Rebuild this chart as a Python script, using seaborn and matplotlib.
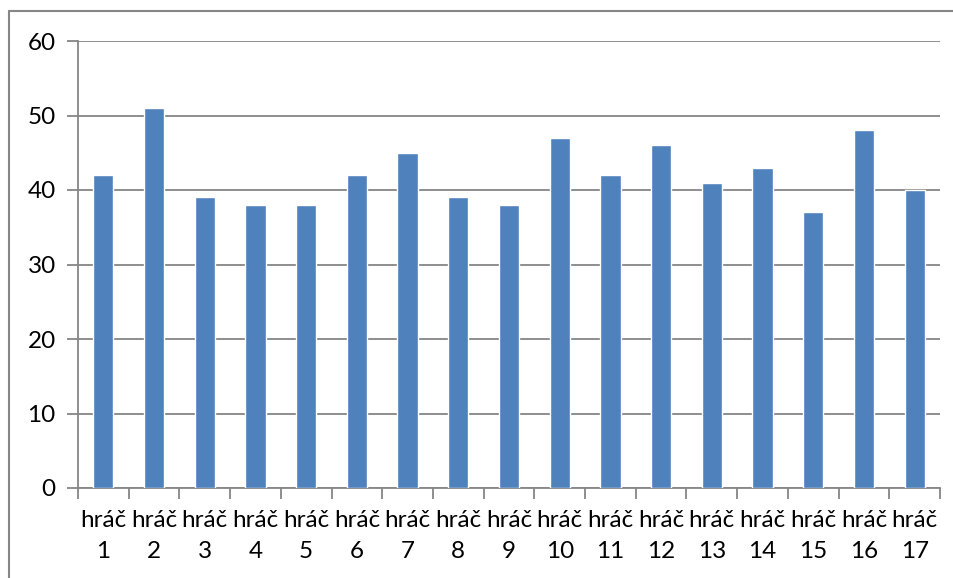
import matplotlib
matplotlib.use("Agg")
import matplotlib.pyplot as plt
import seaborn as sns
import pandas as pd
from matplotlib.lines import Line2D

players = [f"hráč\n{i}" for i in range(1, 18)]
scores = [42, 51, 39, 38, 38, 42, 45, 39, 38, 47, 42, 46, 41, 43, 37, 48, 40]
y_ticks = [0, 10, 20, 30, 40, 50, 60]

df = pd.DataFrame({"player": players, "score": scores})

sns.set_theme(style="white")
plt.rcParams["font.family"] = ["Lato", "DejaVu Sans"]

fig = plt.figure(figsize=(9.54, 5.78), dpi=100)
ax = fig.add_axes([78 / 954, 1 - 488 / 578, (940 - 78) / 954, (488 - 41) / 578])

sns.barplot(data=df, x="player", y="score", color="#4F81BD", width=0.4,
            saturation=1, ax=ax, zorder=3)

grid_color = "#868686"
ax.set_ylim(0, 60)
ax.set_xlim(-0.5, len(players) - 0.5)
ax.set_yticks(y_ticks)
ax.yaxis.grid(True, color=grid_color, linewidth=1.3, zorder=0)
ax.set_axisbelow(True)
for side in ["top", "right"]:
    ax.spines[side].set_visible(False)
for side in ["left", "bottom"]:
    ax.spines[side].set_color(grid_color)
    ax.spines[side].set_linewidth(1.3)

ax.set_xlabel("")
ax.set_ylabel("")
ax.tick_params(axis="y", length=8, width=1.3, color=grid_color, direction="out",
               labelsize=17.5, pad=8, left=True)
ax.tick_params(axis="x", length=0, labelsize=17.5, pad=16)

# category boundary ticks on the x axis
ax.set_xticks([i - 0.5 for i in range(len(players) + 1)], minor=True)
ax.tick_params(axis="x", which="minor", length=8, width=1.3, color=grid_color,
               direction="out", bottom=True)
for lbl in ax.get_xticklabels():
    lbl.set_linespacing(1.55)
for lbl in ax.get_xticklabels() + ax.get_yticklabels():
    lbl.set_color("black")

# chart frame
fig.add_artist(Line2D([9 / 954, 9 / 954], [0, 1 - 11 / 578], transform=fig.transFigure,
                      color=grid_color, linewidth=1.5))
fig.add_artist(Line2D([9 / 954, 1], [1 - 11 / 578, 1 - 11 / 578], transform=fig.transFigure,
                      color=grid_color, linewidth=1.5))

fig.savefig("out.png", dpi=100)
